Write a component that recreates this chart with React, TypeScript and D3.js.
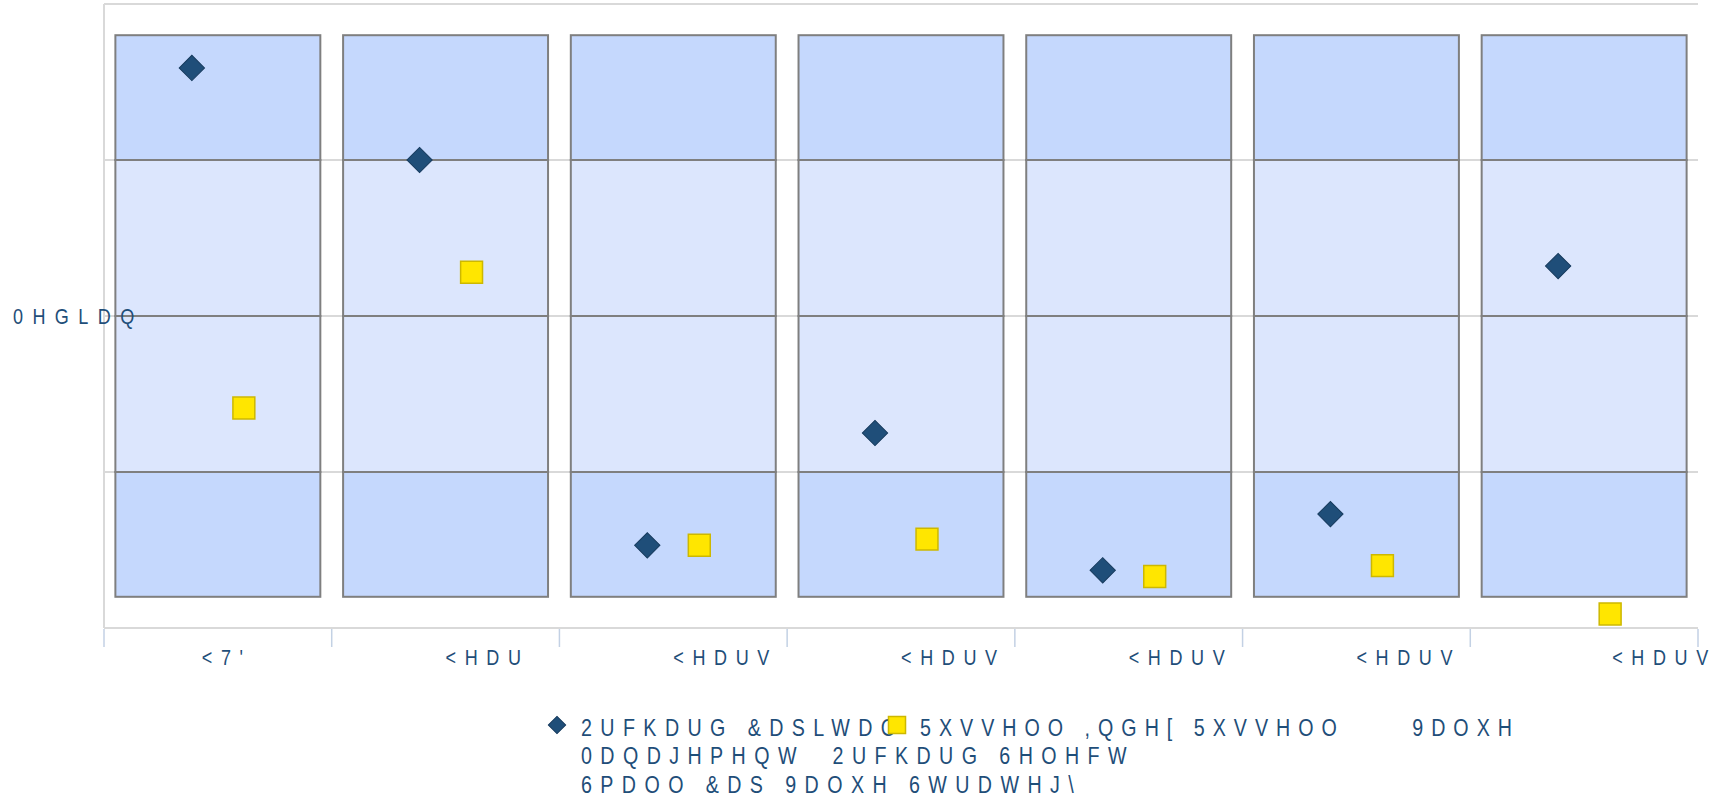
import * as React from 'react';
import * as d3 from 'd3';

// tick labels as they appear in the chart
const categories = ["<7'", '<HDU', '<HDUV', '<HDUV', '<HDUV', '<HDUV', '<HDUV'];
const orchardValues = [3.59, 3.0, 0.53, 1.25, 0.37, 0.73, 2.32];
const russellValues = [1.41, 2.28, 0.53, 0.57, 0.33, 0.40, 0.09];
// quartile-like band edges shared by every column
const bandEdges = [0.2, 1, 2, 3, 3.8];
const yTicks = [0, 1, 2, 3, 4];
const yLabel = '0HGLDQ';
const yLabelValue = 2;
const seriesKeys = ['orchard', 'russell'];
const legendOrchard = ['2UFKDUG &DSLWDO', '0DQDJHPHQW  2UFKDUG 6HOHFW', '6PDOO &DS 9DOXH 6WUDWHJ\\'];
const legendRussell = '5XVVHOO ,QGH[ 5XVVHOO     9DOXH';

const width = 1735;
const height = 798;
const margin = { top: 4, left: 104, right: 37, bottom: 170 };

const textColor = '#1f4e79';
const fontFamily = "'Liberation Sans', Arial, sans-serif";
// the source font is a condensed face, so squeeze a regular one
const squeeze = 0.82;

function Label(props: { x: number, y: number, size: number, spacing: number, children: string, dy?: string }) {
    return <text
        transform={`translate(${props.x},${props.y}) scale(${squeeze},1)`}
        dy={props.dy}
        fontSize={props.size}
        letterSpacing={props.spacing / squeeze}
        fill={textColor}
        style={{ whiteSpace: 'pre' }}>{props.children}</text>;
}

export default function App() {
    const plotRight = width - margin.right;
    const plotBottom = height - margin.bottom;

    const x = d3.scaleBand<number>()
        .domain(categories.map((_, i) => i))
        .range([margin.left, plotRight])
        .paddingInner(0.1)
        .paddingOuter(0.05);
    const xSeries = d3.scalePoint<string>()
        .domain(seriesKeys)
        .range([-26, 26]);
    const y = d3.scaleLinear()
        .domain([0, 4])
        .range([plotBottom, margin.top]);

    const step = x.step();
    const tickXs = d3.range(categories.length + 1).map(i => margin.left + i * step);

    const diamond = d3.symbol().type(d3.symbolSquare).size(320)();
    const square = d3.symbol().type(d3.symbolSquare).size(480)();
    const legendDiamond = d3.symbol().type(d3.symbolSquare).size(150)();
    const legendSquare = d3.symbol().type(d3.symbolSquare).size(290)();

    const bandFills = ['#c5d8fd', '#dce6fd', '#dce6fd', '#c5d8fd'];

    // labels start at the column centre; first and last sit a little off it
    const labelX = (i: number) => {
        const c = x(i)! + x.bandwidth() / 2;
        if (i === 0) return c - 16;
        if (i === categories.length - 1) return c + 28;
        return c;
    };

    return (
        <svg width={width} height={height}
            style={{ position: 'fixed', left: 0, top: 0, background: '#fff' }}
            fontFamily={fontFamily}>
            {/* grid */}
            {yTicks.map(t => (
                <line key={t} x1={margin.left} x2={plotRight} y1={y(t)} y2={y(t)}
                    stroke="#d9d9d9" strokeWidth={2} />
            ))}
            <line x1={margin.left} x2={margin.left} y1={y(4)} y2={y(0)} stroke="#d9d9d9" strokeWidth={2} />
            {tickXs.map((tx, i) => (
                <line key={i} x1={tx} x2={tx} y1={y(0) + 1} y2={y(0) + 19} stroke="#c3d1e4" strokeWidth={1.5} />
            ))}

            {/* boxes */}
            {categories.map((_, i) => (
                <g key={i}>
                    {d3.pairs(bandEdges).map(([lo, hi], j) => (
                        <rect key={j} x={x(i)} width={x.bandwidth()}
                            y={y(hi)} height={y(lo) - y(hi)}
                            fill={bandFills[j]} stroke="#7f7f7f" strokeWidth={2} />
                    ))}
                </g>
            ))}

            {/* points */}
            {orchardValues.map((v, i) => (
                <path key={'o' + i} d={diamond!}
                    transform={`translate(${x(i)! + x.bandwidth() / 2 + xSeries('orchard')!},${y(v)}) rotate(45)`}
                    fill="#1f4e79" stroke="#173b5e" strokeWidth={1} />
            ))}
            {russellValues.map((v, i) => (
                <path key={'r' + i} d={square!}
                    transform={`translate(${x(i)! + x.bandwidth() / 2 + xSeries('russell')!},${y(v)})`}
                    fill="#ffe600" stroke="#cdb800" strokeWidth={1.5} />
            ))}

            {/* x labels */}
            {categories.map((c, i) => (
                <Label key={i} x={labelX(i)} y={y(0) + 37} size={22} spacing={8.6}>{c}</Label>
            ))}

            {/* y label */}
            <Label x={13} y={y(yLabelValue)} dy="0.35em" size={22} spacing={9.4}>{yLabel}</Label>

            {/* legend */}
            <path d={legendDiamond!} transform="translate(557,725) rotate(45)" fill="#1f4e79" stroke="#173b5e" />
            {legendOrchard.map((line, i) => (
                <Label key={i} x={581} y={736 + i * 28.3} size={24} spacing={8.4}>{line}</Label>
            ))}
            <path d={legendSquare!} transform="translate(897,725)" fill="#ffe600" stroke="#cdb800" strokeWidth={1.5} />
            <Label x={920} y={736} size={24} spacing={8}>{legendRussell}</Label>
        </svg>
    );
}
